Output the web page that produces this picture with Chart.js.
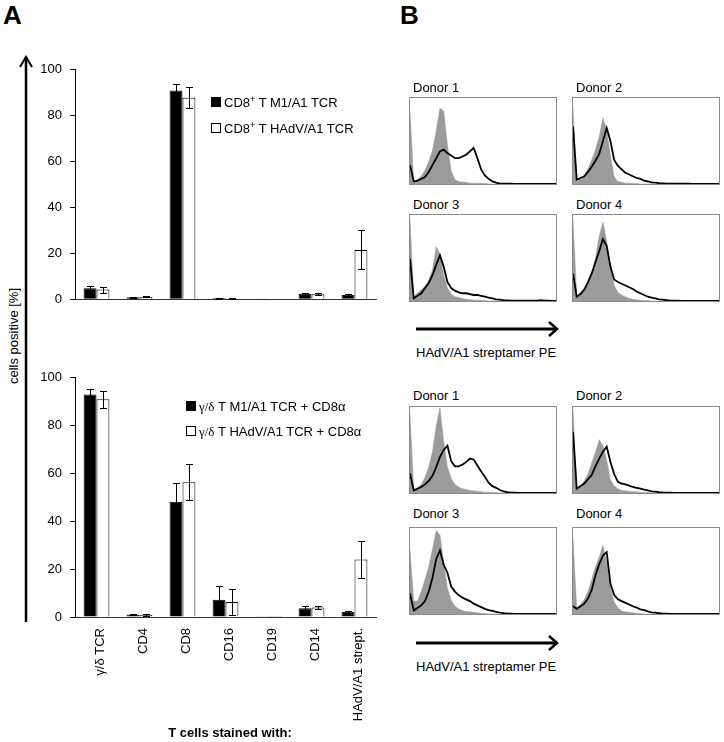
<!DOCTYPE html>
<html>
<head>
<meta charset="utf-8">
<script src="https://cdn.jsdelivr.net/npm/chart.js@4.4.1/dist/chart.umd.min.js"></script>
<style>
  body{margin:0;background:#fff;}
  #wrap{position:relative;width:724px;height:742px;font-family:'Liberation Sans',Arial,sans-serif;color:#000;overflow:hidden;}
  .abs{position:absolute;white-space:nowrap;}
  .txt{font-size:13px;line-height:13px;}
  .box{position:absolute;width:148px;height:88px;box-sizing:border-box;border:1px solid #8a8a8a;}
  .box canvas{position:absolute;left:0;top:0;}
  .sq{display:inline-block;width:8px;height:8px;border:1px solid #000;margin-right:3px;}
  .serif{font-family:'Liberation Serif','DejaVu Serif',serif;}
  sup{font-size:9px;line-height:0;vertical-align:5px;}
</style>
</head>
<body>
<div id="wrap">
  <div class="abs" style="left:3px;top:0px;font-size:26px;font-weight:bold;line-height:30px;">A</div>
  <div class="abs" style="left:400px;top:0px;font-size:26px;font-weight:bold;line-height:30px;">B</div>

  <svg class="abs" style="left:0;top:0" width="60" height="742">
    <line x1="26" y1="57" x2="26" y2="622" stroke="#000" stroke-width="2.5"/>
    <polyline points="20,67 26,57 32,67" fill="none" stroke="#000" stroke-width="2"/>
  </svg>
  <div class="abs txt" style="left:13px;top:336px;transform:translate(-50%,-50%) rotate(-90deg);">cells positive [%]</div>

  <canvas id="barTop" class="abs" style="left:20px;top:54px" width="360" height="261"></canvas>
  <canvas id="barBot" class="abs" style="left:20px;top:362px" width="360" height="380"></canvas>

  <div class="abs txt" style="left:211px;top:96px;"><span class="sq" style="background:#000"></span>CD8<sup>+</sup> T M1/A1 TCR</div>
  <div class="abs txt" style="left:211px;top:122px;"><span class="sq" style="background:#fff"></span>CD8<sup>+</sup> T HAdV/A1 TCR</div>
  <div class="abs txt" style="left:186px;top:400px;"><span class="sq" style="background:#000"></span><span class="serif">γ/δ</span> T M1/A1 TCR + CD8α</div>
  <div class="abs txt" style="left:186px;top:425px;"><span class="sq" style="background:#fff"></span><span class="serif">γ/δ</span> T HAdV/A1 TCR + CD8α</div>
  <div class="abs txt" style="left:230px;top:726px;transform:translateX(-50%);font-weight:bold;">T cells stained with:</div>

  <div class="abs txt" style="left:413px;top:81px;">Donor 1</div>
  <div class="abs txt" style="left:576px;top:81px;">Donor 2</div>
  <div class="abs txt" style="left:413px;top:198px;">Donor 3</div>
  <div class="abs txt" style="left:576px;top:198px;">Donor 4</div>
  <div class="box" style="left:409px;top:97px"><canvas id="h1" width="146" height="86"></canvas></div>
  <div class="box" style="left:572px;top:97px"><canvas id="h2" width="146" height="86"></canvas></div>
  <div class="box" style="left:409px;top:214px"><canvas id="h3" width="146" height="86"></canvas></div>
  <div class="box" style="left:572px;top:214px"><canvas id="h4" width="146" height="86"></canvas></div>
  <svg class="abs" style="left:400px;top:315px" width="170" height="30">
    <line x1="16" y1="14" x2="157" y2="14" stroke="#000" stroke-width="3"/>
    <polyline points="149,7 157,14 149,21" fill="none" stroke="#000" stroke-width="2.5"/>
  </svg>
  <div class="abs txt" style="left:416px;top:346px;">HAdV/A1 streptamer PE</div>

  <div class="abs txt" style="left:413px;top:389px;">Donor 1</div>
  <div class="abs txt" style="left:576px;top:389px;">Donor 2</div>
  <div class="abs txt" style="left:413px;top:507px;">Donor 3</div>
  <div class="abs txt" style="left:576px;top:507px;">Donor 4</div>
  <div class="box" style="left:409px;top:406px"><canvas id="h5" width="146" height="86"></canvas></div>
  <div class="box" style="left:572px;top:406px"><canvas id="h6" width="146" height="86"></canvas></div>
  <div class="box" style="left:409px;top:527px"><canvas id="h7" width="146" height="86"></canvas></div>
  <div class="box" style="left:572px;top:527px"><canvas id="h8" width="146" height="86"></canvas></div>
  <svg class="abs" style="left:400px;top:629px" width="170" height="30">
    <line x1="16" y1="14" x2="157" y2="14" stroke="#000" stroke-width="3"/>
    <polyline points="149,7 157,14 149,21" fill="none" stroke="#000" stroke-width="2.5"/>
  </svg>
  <div class="abs txt" style="left:416px;top:660px;">HAdV/A1 streptamer PE</div>
</div>

<script>
// panel A: % positive cells per marker (mean, error)
const cats = ['γ/δ TCR','CD4','CD8','CD16','CD19','CD14','HAdV/A1 strept.'];
const cd8M1 = [4.8, 0.9, 91, 0.5, 0.1, 2.4, 1.9];
const cd8M1Err = [1.0, 0.2, 3, 0.2, 0, 0.4, 0.4];
const cd8HAdV = [4.2, 1.0, 87.8, 0.3, 0.05, 2.2, 21.5];
const cd8HAdVErr = [1.3, 0.2, 4.5, 0.1, 0, 0.4, 8.5];
const gdM1 = [93, 1.0, 48.2, 7.2, 0.1, 3.7, 2.2];
const gdM1Err = [2.5, 0.3, 8, 5.7, 0, 1.0, 0.4];
const gdHAdV = [91, 0.8, 56.3, 6.3, 0.05, 4.0, 24];
const gdHAdVErr = [3.5, 0.3, 7.5, 5.3, 0, 0.7, 7.7];

// panel B: histogram heights (% of max), 40 bins across log PE axis; ctrl = gray fill, tcr = black line
const hTopD1Ctrl = [85,3,5,9,16,26,39,62,88,85, 45,15,5,3,2,2,1,1,1,0.5, 0.5,0,0,0,0,0,0,0,0,0, 0,0,0,0,0,0,0,0,0,0];
const hTopD1Tcr  = [22,3,4,6,8,14,22,30,38,40, 36,33,30,30,32,34,38,42,30,17, 10,6,3,1.5,0.5,0.5,0.3,0.3,0,0, 0,0,0,0,0,0,0,0,0,0];
const hTopD2Ctrl = [88,3,6,10,18,28,40,55,77,63, 33,8,3,2,1,1,0.5,0.5,0,0, 0,0,0,0,0,0,0,0,0,0, 0,0,0,0,0,0,0,0,0,0];
const hTopD2Tcr  = [67,5,7,9,14,20,27,35,50,65, 50,28,21,17,13,11,9,7,6,4, 3,2,1.5,1,0.8,0.5,0.5,0.3,0.3,0.3, 0.3,0.3,0,0,0,0,0,0,0,0];
const hTopD3Ctrl = [95,5,9,13,17,24,36,63,55,30, 15,8,5,4,3,2,1.5,1,1,0.5, 0.5,0,0,0,0,0,0,0,0,0, 0,0,0,0,0,0,0,0,0,0];
const hTopD3Tcr  = [49,3,6,9,15,21,30,42,53,40, 22,15,12,10,9,9,8,7,7,6, 5,4,3,2,1.5,1,0.8,0.5,0.3,0.3, 0.3,0.3,0.3,0.3,0.5,1,0.5,0.3,0,0];
const hTopD4Ctrl = [93,6,10,15,22,32,50,75,92,70, 40,18,10,7,5,3,2,1.5,1,0.5, 0.5,0,0,0,0,0,0,0,0,0, 0,0,0,0,0,0,0,0,0,0];
const hTopD4Tcr  = [32,5,8,13,22,32,45,58,72,64, 40,25,22,20,18,16,14,11,9,7, 5,4,3,2,1.5,1,0.5,0.3,0.3,0, 0,0,0,0,0,0,0,0,0,0];
const hBotD1Ctrl = [92,3,6,10,18,30,48,78,99,60, 30,17,10,7,5,4,3,2.5,2,1.5, 1,1,0.5,0.5,0,0,0,0,0,0, 0,0,0,0,0,0,0,0,0,0];
const hBotD1Tcr  = [23,3,5,7,10,14,20,30,42,50, 55,37,31,31,33,36,40,39,32,25, 19,12,8,6,3.5,2,1,0.5,0.3,0, 0,0,0,0,0,0,0,0,0,0];
const hBotD2Ctrl = [98,5,8,14,22,35,47,62,55,38, 15,8,5,3,2.5,2,1.5,1.5,1,0.5, 0.5,0,0,0,0,0,0,0,0,0, 0,0,0,0,0,0,0,0,0,0];
const hBotD2Tcr  = [71,5,8,11,16,21,31,40,48,54, 36,22,13,11,10,8.5,7,6,5,4, 3,2,1.5,1,0.6,0.4,0.3,0,0,0, 0,0,0,0,0,0,0,0,0,0];
const hBotD3Ctrl = [74,15,15,26,40,55,75,97,92,60, 30,16,9,6,4,3,2.5,2,1.5,1, 0.5,0,0,0,0,0,0,0,0,0, 0,0,0,0,0,0,0,0,0,0];
const hBotD3Tcr  = [24,4,7,10,15,26,42,64,74,57, 48,32,26,22,19,17,15,12,10,8, 6,4.5,3.5,2.5,1.5,1,0.5,0.3,0,0, 0,0,0,0,0,0,0,0,0,0];
const hBotD4Ctrl = [87,6,11,17,26,40,55,66,80,60, 30,14,7,3.5,2.5,2,1.5,1,0.5,0, 0,0,0,0,0,0,0,0,0,0, 0,0,0,0,0,0,0,0,0,0];
const hBotD4Tcr  = [9,6,9,12,18,28,45,58,68,72, 35,22,17,15,13,11,9,7.5,5.5,4.5, 3,2,1.5,1,0.5,0.3,0,0,0,0, 0,0,0,0,0,0,0,0,0,0];

Chart.defaults.font.family = "'Liberation Sans', Arial, sans-serif";
Chart.defaults.color = '#000';

const errBars = {
  id:'errBars',
  afterDatasetsDraw(chart){
    const {ctx, scales:{y}} = chart;
    ctx.save(); ctx.strokeStyle = '#000'; ctx.lineWidth = 1;
    chart.data.datasets.forEach((ds, di) => {
      const meta = chart.getDatasetMeta(di);
      ds.err.forEach((e, i) => {
        if (!e) return;
        const x = Math.round(meta.data[i].x) + 0.5, v = ds.data[i];
        const y1 = Math.round(y.getPixelForValue(v + e)) + 0.5, y2 = Math.round(y.getPixelForValue(Math.max(0, v - e))) + 0.5;
        ctx.beginPath();
        ctx.moveTo(x, y1); ctx.lineTo(x, y2);
        ctx.moveTo(x - 3.5, y1); ctx.lineTo(x + 3.5, y1);
        ctx.moveTo(x - 3.5, y2); ctx.lineTo(x + 3.5, y2);
        ctx.stroke();
      });
    });
    ctx.restore();
  }
};

function barChart(id, d1, e1, d2, e2, showX){
  return new Chart(document.getElementById(id), {
    type:'bar',
    data:{labels:cats, datasets:[
      {data:d1, err:e1, backgroundColor:'#000', borderColor:'#000', borderWidth:1},
      {data:d2, err:e2, backgroundColor:'#fff', borderColor:'#000', borderWidth:1}
    ]},
    options:{
      responsive:false, animation:false, events:[],
      layout:{padding:{top:10, right:4, bottom:showX ? 0 : 6, left:0}},
      datasets:{bar:{categoryPercentage:0.6, barPercentage:1}},
      plugins:{legend:{display:false}, tooltip:{enabled:false}},
      scales:{
        x:{grid:{display:false}, border:{color:'#333'},
           ticks:{display:showX, minRotation:90, maxRotation:90, autoSkip:false, padding:3, labelOffset:4, font:{size:13}},
           afterFit:s => { s.height = showX ? 125 : 0; }},
        y:{min:0, max:100, ticks:{stepSize:20, padding:8, font:{size:13}},
           grid:{drawOnChartArea:false, tickLength:5, color:'#000'}, border:{color:'#000'},
           afterFit:s => { s.width = 55; }}
      }
    },
    plugins:[errBars]
  });
}

function hist(id, ctrl, tcr){
  return new Chart(document.getElementById(id), {
    type:'line',
    data:{labels:ctrl.map((_, i) => i), datasets:[
      {data:tcr, borderColor:'#000', borderWidth:1.8, fill:false, pointRadius:0, tension:0, order:0},
      {data:ctrl, borderColor:'#9b9b9b', backgroundColor:'#9b9b9b', borderWidth:0.5, fill:'origin', pointRadius:0, tension:0, order:1}
    ]},
    options:{
      responsive:false, animation:false, events:[],
      layout:{padding:0},
      plugins:{legend:{display:false}, tooltip:{enabled:false}},
      scales:{x:{display:false, offset:false}, y:{display:false, min:0, max:100}}
    }
  });
}

barChart('barTop', cd8M1, cd8M1Err, cd8HAdV, cd8HAdVErr, false);
barChart('barBot', gdM1, gdM1Err, gdHAdV, gdHAdVErr, true);
hist('h1', hTopD1Ctrl, hTopD1Tcr);
hist('h2', hTopD2Ctrl, hTopD2Tcr);
hist('h3', hTopD3Ctrl, hTopD3Tcr);
hist('h4', hTopD4Ctrl, hTopD4Tcr);
hist('h5', hBotD1Ctrl, hBotD1Tcr);
hist('h6', hBotD2Ctrl, hBotD2Tcr);
hist('h7', hBotD3Ctrl, hBotD3Tcr);
hist('h8', hBotD4Ctrl, hBotD4Tcr);
</script>
</body>
</html>
